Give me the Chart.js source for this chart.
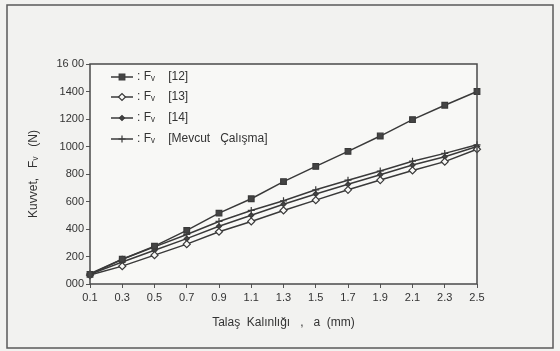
<!DOCTYPE html>
<html>
<head>
<meta charset="utf-8">
<script src="https://cdn.jsdelivr.net/npm/chart.js@4.4.0/dist/chart.umd.min.js"></script>
<style>
html,body{margin:0;padding:0;background:#f2f2f0;}
#wrap{position:relative;width:560px;height:351px;}
canvas{display:block;}
</style>
</head>
<body>
<div id="wrap"><canvas id="c" width="560" height="351"></canvas></div>
<script>
// Chip thickness a (mm)
const categories = ['0.1','0.3','0.5','0.7','0.9','1.1','1.3','1.5','1.7','1.9','2.1','2.3','2.5'];
// Force Fv (N)
const fv12      = [70, 180, 275, 390, 515, 620, 745, 855, 965, 1076, 1195, 1300, 1400];
const fv13      = [65, 130, 210, 290, 380, 455, 535, 610, 685, 756, 826, 890, 980];
const fv14      = [70, 160, 245, 330, 420, 500, 580, 655, 725, 795, 865, 925, 1000];
const fvMevcut  = [75, 180, 270, 360, 455, 535, 605, 685, 755, 822, 893, 950, 1012];
const yTickLabels = ['000','200','400','600','800','1000','1200','1400','16 00'];
const seriesNames = [': F\u1D65    [12]', ': F\u1D65    [13]', ': F\u1D65    [14]', ': F\u1D65    [Mevcut   \u00C7al\u0131\u015Fma]'];

const ink = '#3a3a3a';
const FONT = "'Liberation Sans', Arial, sans-serif";

const framePlugin = {
  id: 'frame',
  beforeDraw(chart) {
    const ctx = chart.ctx;
    ctx.save();
    ctx.strokeStyle = '#5a5a5a';
    ctx.lineWidth = 1.5;
    ctx.strokeRect(7, 5, 546, 343);
    const a = chart.chartArea;
    ctx.fillStyle = '#f8f8f6';
    ctx.fillRect(a.left, a.top, a.right - a.left, a.bottom - a.top);
    ctx.restore();
  },
  afterDatasetsDraw(chart) {
    const ctx = chart.ctx;
    const a = chart.chartArea;
    ctx.save();
    ctx.strokeStyle = '#4a4a4a';
    ctx.lineWidth = 1.5;
    ctx.strokeRect(a.left, a.top, a.right - a.left, a.bottom - a.top);
    // legend inside plot
    const x0 = 111, rowY = [77, 97, 118, 139];
    chart.data.datasets.forEach((ds, i) => {
      const y = rowY[i];
      ctx.strokeStyle = ink;
      ctx.lineWidth = 1.5;
      ctx.beginPath();
      ctx.moveTo(x0, y);
      ctx.lineTo(x0 + 22, y);
      ctx.stroke();
      ctx.fillStyle = ds.pointBackgroundColor;
      ctx.strokeStyle = ds.pointBorderColor;
      ctx.lineWidth = 1.2;
      Chart.helpers.drawPoint(ctx, {
        pointStyle: ds.pointStyle, radius: ds.pointRadius, borderWidth: 1.2, rotation: 0
      }, x0 + 11, y);
      ctx.fillStyle = '#333';
      ctx.font = '12px ' + FONT;
      ctx.textBaseline = 'middle';
      ctx.textAlign = 'left';
      ctx.fillText(ds.label, x0 + 26, y);
    });
    ctx.restore();
  }
};

function mk(label, data, style, radius, fill) {
  return {
    label, data,
    borderColor: ink, borderWidth: 1.5,
    pointStyle: style, pointRadius: radius,
    pointBackgroundColor: fill, pointBorderColor: ink, pointBorderWidth: 1.2,
    tension: 0, fill: false
  };
}

new Chart(document.getElementById('c'), {
  type: 'line',
  data: {
    labels: categories,
    datasets: [
      mk(seriesNames[0], fv12, 'rect', 4, '#444'),
      mk(seriesNames[1], fv13, 'rectRot', 3.5, '#f8f8f6'),
      mk(seriesNames[2], fv14, 'rectRot', 2.5, '#444'),
      mk(seriesNames[3], fvMevcut, 'cross', 3.5, '#444')
    ]
  },
  options: {
    responsive: false,
    animation: false,
    devicePixelRatio: 1,
    layout: { padding: { left: 22, right: 83, top: 64, bottom: 21 } },
    plugins: { legend: { display: false }, tooltip: { enabled: false } },
    scales: {
      x: {
        type: 'category',
        offset: false,
        grid: { display: true, drawOnChartArea: false, drawTicks: true, tickLength: 4, color: '#555' },
        border: { display: false },
        ticks: { color: '#333', font: { family: FONT, size: 11 }, maxRotation: 0, autoSkip: false, padding: 3 },
        title: { display: true, text: 'Talaş  Kalınlığı   ,   a  (mm)', color: '#333', font: { family: FONT, size: 12 }, padding: { top: 1, bottom: 0 } },
        afterFit(s) { s.height = 46; }
      },
      y: {
        min: 0, max: 1600,
        grid: { display: true, drawOnChartArea: false, drawTicks: true, tickLength: 4, color: '#555' },
        border: { display: false },
        ticks: {
          stepSize: 200, color: '#333', font: { family: FONT, size: 11 }, padding: 2,
          callback: (v) => yTickLabels[Math.round(v / 200)]
        },
        title: { display: true, text: 'Kuvvet,   F\u1D65   (N)', color: '#333', font: { family: FONT, size: 12 }, padding: { bottom: 4 } },
        afterFit(s) { s.width = 68; }
      }
    }
  },
  plugins: [framePlugin]
});
</script>
</body>
</html>
